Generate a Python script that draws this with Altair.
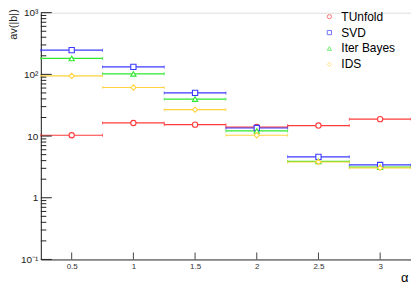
import altair as alt
import pandas as pd

# ---- data ----
bins = [0.5, 1.0, 1.5, 2.0, 2.5, 3.0]
half_width = 0.25
series_names = ["TUnfold", "SVD", "Iter Bayes", "IDS"]
tunfold = [10.3, 16.3, 15.3, 14.0, 14.8, 18.8]
svd = [247, 132, 50, 13.5, 4.6, 3.4]
iter_bayes = [181, 102, 39.7, 12.1, 3.88, 3.13]
ids = [94.5, 61.2, 26.8, 10.3, 3.80, 3.05]

colors = ["#ff3b3b", "#3b3bff", "#2ee82e", "#ffd23f"]
shapes = ["circle", "square", "triangle-up", "diamond"]

x_ticks = [0.5, 1.0, 1.5, 2.0, 2.5, 3.0]
y_major = [0.1, 1, 10, 100, 1000]
y_minor = [m * d for d in [0.1, 1, 10, 100] for m in range(2, 10)]

rows = []
for name, col, vals in zip(series_names, colors,
                           [tunfold, svd, iter_bayes, ids]):
    for b, v in zip(bins, vals):
        rows.append({"series": name, "col": col, "x": b, "lo": b - half_width,
                     "hi": b + half_width, "v": v})
df = pd.DataFrame(rows)

W, H = 372, 248

xscale = alt.Scale(domain=[0.25, 3.25], nice=False, zero=False)
yscale = alt.Scale(type="log", domain=[0.1, 1000], nice=False)
cscale = alt.Scale(domain=series_names, range=colors)
sscale = alt.Scale(domain=series_names, range=shapes)

label_expr = ("datum.value == 1000 ? '10³' : datum.value == 100 ? '10²' : "
              "datum.value == 10 ? '10' : datum.value == 1 ? '1' : '10⁻¹'")

xaxis = alt.Axis(values=x_ticks, format="~g", ticks=False, grid=False,
                 domainColor="#333", labelFontSize=8, labelColor="#333",
                 labelPadding=3, title="α",
                 titleFontSize=13, titleFontWeight="normal",
                 titleAnchor="end", titleAlign="right", titleX=W - 3,
                 titleY=22, titleBaseline="alphabetic")
yaxis = alt.Axis(values=y_major, labelExpr=label_expr, ticks=False, grid=False,
                 domainColor="#222", labelFontSize=10, labelColor="#222",
                 labelPadding=3, title="av(|b|)",
                 titleFontSize=11, titleFontWeight="normal",
                 titleAngle=-90, titleAlign="right", titleBaseline="top",
                 titleX=-33, titleY=-4, titleColor="#222")

legend = alt.Legend(title=None, orient="none", legendX=284, legendY=-2,
                    padding=0, symbolSize=18, symbolStrokeWidth=1,
                    symbolFillColor="white", labelFontSize=12,
                    labelColor="#000", labelOffset=6, rowPadding=4)

base = alt.Chart(df)
line_color = alt.Color("col:N", scale=None)

bars = base.mark_rule(strokeWidth=1.2).encode(
    x=alt.X("lo:Q", scale=xscale, axis=xaxis),
    x2="hi:Q",
    y=alt.Y("v:Q", scale=yscale, axis=yaxis),
    color=line_color,
)

caps_lo = base.mark_tick(orient="vertical", size=3, thickness=1).encode(
    x=alt.X("lo:Q", scale=xscale, axis=xaxis),
    y=alt.Y("v:Q", scale=yscale, axis=yaxis),
    color=line_color,
)
caps_hi = base.mark_tick(orient="vertical", size=3, thickness=1).encode(
    x=alt.X("hi:Q", scale=xscale, axis=xaxis),
    y=alt.Y("v:Q", scale=yscale, axis=yaxis),
    color=line_color,
)

points = base.mark_point(filled=False, fill="white", size=28, strokeWidth=1.1,
                         opacity=1).encode(
    x=alt.X("x:Q", scale=xscale, axis=xaxis),
    y=alt.Y("v:Q", scale=yscale, axis=yaxis),
    color=alt.Color("series:N", scale=cscale, legend=legend),
    shape=alt.Shape("series:N", scale=sscale, legend=legend),
)

ymaj = alt.Chart(pd.DataFrame({"t": y_major})).mark_rule(
    color="#222", strokeWidth=1).encode(
    y=alt.Y("t:Q", scale=yscale, axis=yaxis),
    x=alt.value(0), x2=alt.value(11))
ymin = alt.Chart(pd.DataFrame({"t": y_minor})).mark_rule(
    color="#222", strokeWidth=1).encode(
    y=alt.Y("t:Q", scale=yscale, axis=yaxis),
    x=alt.value(0), x2=alt.value(5.5))
xtk = alt.Chart(pd.DataFrame({"t": x_ticks})).mark_rule(
    color="#444", strokeWidth=1).encode(
    x=alt.X("t:Q", scale=xscale, axis=xaxis),
    y=alt.value(H - 7), y2=alt.value(H))

chart = alt.layer(bars, caps_lo, caps_hi, ymin, ymaj, xtk, points).properties(
    width=W, height=H,
    autosize=alt.AutoSizeParams(type="none"),
    padding={"left": 33, "top": 4, "right": 0, "bottom": 28},
    background="white",
).configure_view(stroke="#999", strokeWidth=1).configure(
    font="Liberation Sans")

chart.save("out.html", embed_options={"renderer": "svg", "actions": False})
